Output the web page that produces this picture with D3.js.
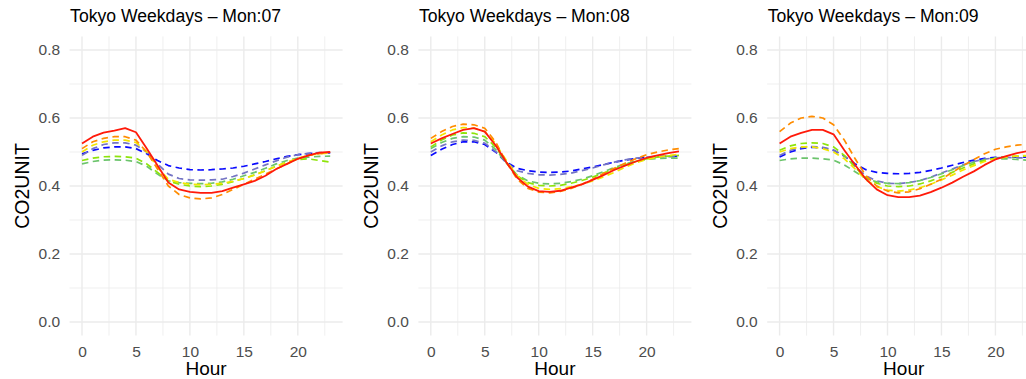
<!DOCTYPE html>
<html><head><meta charset="utf-8">
<script src="https://cdn.jsdelivr.net/npm/d3@7"></script>
<style>
html,body{margin:0;padding:0;background:#fff;}
svg{display:block;font-family:"Liberation Sans",Arial,sans-serif;}
</style></head>
<body><svg id="chart" width="1026" height="379"></svg>
<script>
const hours = [0,1,2,3,4,5,6,7,8,9,10,11,12,13,14,15,16,17,18,19,20,21,22,23];
const panelTitles = ["Tokyo Weekdays \u2013 Mon:07","Tokyo Weekdays \u2013 Mon:08","Tokyo Weekdays \u2013 Mon:09"];
const xTicks = [0,5,10,15,20];
const yTicks = [0.0,0.2,0.4,0.6,0.8];
const seriesNames = ["blue","slate","green","chartreuse","yellow","orange","red"];
const seriesColors = ["#0a0aff","#7474c4","#6cc46c","#8ee40a","#f2e600","#ff8c00","#ff1a0a"];

// Mon:07
const m07_blue = [0.495,0.505,0.512,0.515,0.515,0.510,0.495,0.475,0.460,0.453,0.448,0.447,0.448,0.450,0.453,0.458,0.465,0.472,0.480,0.487,0.492,0.495,0.497,0.497];
const m07_slate = [0.490,0.510,0.522,0.527,0.527,0.520,0.500,0.465,0.435,0.422,0.418,0.417,0.418,0.420,0.428,0.438,0.450,0.462,0.474,0.485,0.492,0.496,0.498,0.498];
const m07_green = [0.465,0.472,0.476,0.477,0.476,0.472,0.458,0.435,0.415,0.410,0.408,0.407,0.408,0.412,0.420,0.430,0.440,0.452,0.465,0.475,0.482,0.485,0.487,0.488];
const m07_chartreuse = [0.475,0.482,0.486,0.487,0.486,0.482,0.465,0.440,0.415,0.405,0.400,0.398,0.400,0.405,0.413,0.422,0.433,0.445,0.458,0.470,0.478,0.480,0.475,0.470];
const m07_yellow = [0.500,0.520,0.530,0.535,0.535,0.528,0.500,0.455,0.420,0.410,0.405,0.404,0.405,0.408,0.414,0.422,0.432,0.445,0.458,0.470,0.482,0.490,0.495,0.497];
const m07_orange = [0.510,0.530,0.540,0.545,0.545,0.535,0.500,0.450,0.400,0.375,0.365,0.362,0.365,0.375,0.390,0.405,0.420,0.435,0.450,0.465,0.480,0.490,0.495,0.500];
const m07_red = [0.525,0.545,0.557,0.563,0.570,0.558,0.510,0.460,0.410,0.390,0.383,0.380,0.380,0.385,0.395,0.405,0.415,0.430,0.450,0.465,0.480,0.490,0.498,0.500];

// Mon:08
const m08_blue = [0.490,0.508,0.522,0.530,0.530,0.522,0.500,0.470,0.452,0.445,0.441,0.440,0.441,0.444,0.450,0.456,0.463,0.470,0.476,0.481,0.485,0.487,0.488,0.488];
const m08_slate = [0.500,0.518,0.530,0.535,0.534,0.526,0.502,0.468,0.445,0.437,0.433,0.432,0.434,0.438,0.445,0.453,0.462,0.470,0.477,0.482,0.485,0.486,0.486,0.485];
const m08_green = [0.510,0.528,0.540,0.545,0.544,0.535,0.508,0.468,0.432,0.415,0.408,0.406,0.408,0.413,0.420,0.430,0.442,0.454,0.465,0.473,0.478,0.481,0.482,0.482];
const m08_chartreuse = [0.515,0.535,0.550,0.556,0.555,0.545,0.515,0.470,0.430,0.410,0.402,0.400,0.402,0.408,0.416,0.426,0.438,0.450,0.462,0.472,0.480,0.485,0.488,0.490];
const m08_yellow = [0.530,0.550,0.565,0.572,0.570,0.560,0.525,0.475,0.430,0.405,0.393,0.390,0.392,0.398,0.405,0.415,0.427,0.440,0.455,0.468,0.478,0.485,0.490,0.493];
const m08_orange = [0.540,0.560,0.575,0.582,0.580,0.570,0.530,0.470,0.420,0.393,0.382,0.380,0.384,0.393,0.405,0.420,0.437,0.452,0.467,0.480,0.492,0.500,0.506,0.510];
const m08_red = [0.525,0.540,0.553,0.565,0.570,0.560,0.520,0.470,0.425,0.398,0.385,0.383,0.386,0.395,0.405,0.418,0.432,0.447,0.460,0.472,0.483,0.490,0.497,0.502];

// Mon:09
const m09_blue = [0.485,0.500,0.510,0.514,0.512,0.505,0.488,0.465,0.448,0.440,0.437,0.436,0.437,0.440,0.446,0.453,0.461,0.469,0.476,0.481,0.484,0.485,0.485,0.485];
const m09_slate = [0.490,0.505,0.513,0.516,0.514,0.506,0.488,0.458,0.430,0.415,0.408,0.407,0.410,0.416,0.426,0.438,0.450,0.462,0.472,0.479,0.483,0.484,0.483,0.482];
const m09_green = [0.475,0.480,0.482,0.482,0.480,0.476,0.462,0.442,0.422,0.412,0.408,0.407,0.410,0.416,0.425,0.436,0.448,0.460,0.470,0.477,0.480,0.480,0.478,0.476];
const m09_chartreuse = [0.505,0.518,0.525,0.527,0.525,0.515,0.490,0.455,0.425,0.408,0.400,0.398,0.400,0.406,0.415,0.427,0.440,0.453,0.465,0.475,0.482,0.486,0.488,0.488];
const m09_yellow = [0.500,0.510,0.515,0.515,0.510,0.500,0.480,0.450,0.418,0.398,0.388,0.385,0.388,0.395,0.405,0.418,0.432,0.447,0.460,0.472,0.480,0.485,0.488,0.490];
const m09_orange = [0.560,0.585,0.600,0.605,0.600,0.580,0.535,0.480,0.430,0.400,0.385,0.380,0.383,0.392,0.405,0.420,0.440,0.460,0.478,0.495,0.508,0.515,0.520,0.523];
const m09_red = [0.525,0.545,0.556,0.565,0.565,0.552,0.505,0.462,0.420,0.390,0.373,0.367,0.367,0.372,0.382,0.395,0.410,0.427,0.443,0.462,0.478,0.488,0.497,0.503];

const panels = [
  [m07_blue,m07_slate,m07_green,m07_chartreuse,m07_yellow,m07_orange,m07_red],
  [m08_blue,m08_slate,m08_green,m08_chartreuse,m08_yellow,m08_orange,m08_red],
  [m09_blue,m09_slate,m09_green,m09_chartreuse,m09_yellow,m09_orange,m09_red]
];

const svg = d3.select("#chart");
const panelStep = 348.8;
const plotLeft = 69.6, plotW = 273, plotTop = 36.4, plotH = 299.2;

const x = d3.scaleLinear().domain([-1.15, 24.15]).range([0, plotW]);
const y = d3.scaleLinear().domain([-0.04, 0.84]).range([plotH, 0]);
const xMinor = [2.5,7.5,12.5,17.5,22.5];
const yMinor = [0.1,0.3,0.5,0.7];

panels.forEach((series, pi) => {
  const g = svg.append("g").attr("transform", `translate(${plotLeft + pi*panelStep},${plotTop})`);
  // minor grid
  g.selectAll(".vmin").data(xMinor).join("line")
    .attr("x1", d=>x(d)).attr("x2", d=>x(d)).attr("y1",0).attr("y2",plotH)
    .attr("stroke","#ebebeb").attr("stroke-width",0.8);
  g.selectAll(".hmin").data(yMinor).join("line")
    .attr("y1", d=>y(d)).attr("y2", d=>y(d)).attr("x1",0).attr("x2",plotW)
    .attr("stroke","#ebebeb").attr("stroke-width",0.8);
  // major grid
  g.selectAll(".vmaj").data(xTicks).join("line")
    .attr("x1", d=>x(d)).attr("x2", d=>x(d)).attr("y1",0).attr("y2",plotH)
    .attr("stroke","#ebebeb").attr("stroke-width",1.4);
  g.selectAll(".hmaj").data(yTicks).join("line")
    .attr("y1", d=>y(d)).attr("y2", d=>y(d)).attr("x1",0).attr("x2",plotW)
    .attr("stroke","#ebebeb").attr("stroke-width",1.4);

  // axes tick labels via d3 axes
  const xAxis = g.append("g").attr("transform",`translate(0,${plotH})`)
    .call(d3.axisBottom(x).tickValues(xTicks).tickSize(0).tickPadding(10).tickFormat(d3.format("d")));
  const yAxis = g.append("g")
    .call(d3.axisLeft(y).tickValues(yTicks).tickSize(0).tickPadding(9.5).tickFormat(d3.format(".1f")));
  [xAxis,yAxis].forEach(a=>{
    a.select(".domain").remove();
    a.selectAll("text").attr("fill","#4d4d4d").style("font-size","15.5px")
      .style("font-family","'Liberation Sans',Arial,sans-serif");
  });
  xAxis.selectAll("text").attr("dy","0.71em");

  // lines
  const line = d3.line().x((d,i)=>x(hours[i])).y(d=>y(d));
  series.forEach((vals, si) => {
    g.append("path").datum(vals)
      .attr("d", line)
      .attr("fill","none")
      .attr("stroke", seriesColors[si])
      .attr("stroke-width", seriesNames[si]==="red" ? 1.8 : 1.7)
      .attr("stroke-dasharray", seriesNames[si]==="red" ? null : "6.5,4.5")
      .attr("stroke-linejoin","round");
  });

  // title
  svg.append("text").attr("x", plotLeft + pi*panelStep + 0.5).attr("y", 22)
    .attr("fill","#000").style("font-size","17.6px").text(panelTitles[pi]);
  // axis titles
  svg.append("text").attr("x", plotLeft + pi*panelStep + plotW/2).attr("y", 375)
    .attr("text-anchor","middle").attr("fill","#000").style("font-size","19px").text("Hour");
  svg.append("text")
    .attr("transform", `translate(${29 + pi*panelStep},${plotTop + plotH/2}) rotate(-90)`)
    .attr("text-anchor","middle").attr("fill","#000").style("font-size","19.5px").text("CO2UNIT");
});
</script></body></html>
